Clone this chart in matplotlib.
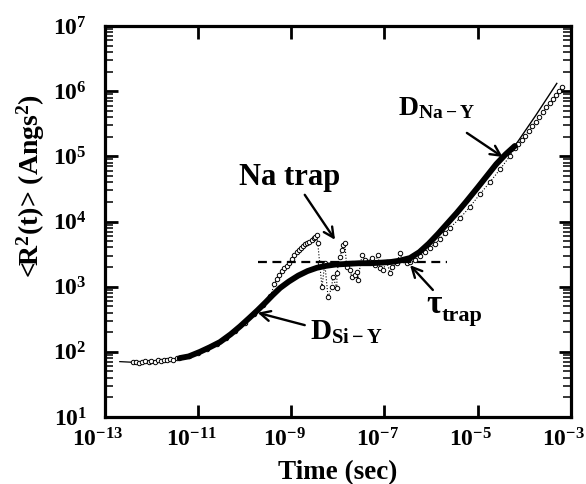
import numpy as np
import matplotlib
matplotlib.use("Agg")
import matplotlib.pyplot as plt
import matplotlib.transforms as mtransforms
from matplotlib.ticker import FixedLocator, LogLocator, NullLocator, LogFormatterMathtext

plt.rcParams["font.family"] = ["Liberation Serif", "DejaVu Serif"]
plt.rcParams["font.weight"] = "bold"
plt.rcParams["mathtext.fontset"] = "custom"
plt.rcParams["mathtext.rm"] = "Liberation Serif:bold"
plt.rcParams["mathtext.it"] = "Liberation Serif:bold"
plt.rcParams["mathtext.bf"] = "Liberation Serif:bold"

# --- data (log10 of time in s, log10 of <R^2> in Angs^2) ---
# model curve (thick part)
fit_logt = [-11.39, -11.20, -10.96, -10.75, -10.53, -10.30, -10.10, -9.90, -9.72,
            -9.55, -9.40, -9.24, -9.05, -8.85, -8.65, -8.45, -8.25, -8.05, -7.80,
            -7.55, -7.30, -7.05, -6.85, -6.67, -6.45, -6.25, -6.05, -5.85, -5.65,
            -5.45, -5.25, -5.00, -4.80, -4.60, -4.40, -4.20]
fit_logr = [1.905, 1.93, 2.00, 2.07, 2.15, 2.27, 2.39, 2.52, 2.64,
            2.76, 2.87, 2.98, 3.08, 3.17, 3.24, 3.29, 3.32, 3.34, 3.35,
            3.36, 3.36, 3.37, 3.38, 3.40, 3.44, 3.53, 3.66, 3.81, 3.97,
            4.13, 4.30, 4.52, 4.70, 4.88, 5.03, 5.16]
# thin extensions of the model
early_logt = [-12.68, -12.40, -12.00, -11.60, -11.39]
early_logr = [1.85, 1.84, 1.85, 1.88, 1.905]
late_logt = [-4.20, -3.75, -3.30]
late_logr = [5.16, 5.63, 6.12]

# simulation points
sim_logt = [-12.40, -12.33, -12.26, -12.20, -12.13, -12.06, -12.00, -11.93, -11.86,
            -11.80, -11.73, -11.66, -11.60, -11.53, -11.46, -11.40,
            -11.20, -11.00, -10.80, -10.60, -10.40, -10.20, -10.00, -9.80, -9.60, -9.45,
            -9.36, -9.31, -9.26, -9.20, -9.15, -9.09, -9.04, -8.99, -8.94, -8.88,
            -8.83, -8.79, -8.75, -8.71, -8.66, -8.62, -8.56, -8.52, -8.49, -8.45,
            -8.43, -8.39, -8.34, -8.28, -8.21, -8.13, -8.11, -8.02, -8.02, -7.96, -7.91,
            -7.89, -7.85, -7.81, -7.74, -7.70, -7.64, -7.59, -7.57, -7.48, -7.42, -7.36,
            -7.27, -7.21, -7.14, -7.10, -7.03, -6.95, -6.88, -6.84, -6.73, -6.67, -6.61,
            -6.52, -6.45, -6.35, -6.24, -6.13, -6.03, -5.92, -5.81, -5.70, -5.60,
            -5.38, -5.17, -4.95, -4.74, -4.52, -4.31,
            -4.20, -4.13, -4.05, -3.98, -3.90, -3.83, -3.75, -3.68, -3.60, -3.53,
            -3.45, -3.38, -3.32, -3.25, -3.19]
sim_logr = [1.84, 1.85, 1.83, 1.85, 1.86, 1.84, 1.86, 1.85, 1.87,
            1.86, 1.88, 1.87, 1.89, 1.88, 1.90, 1.91,
            1.93, 1.99, 2.05, 2.12, 2.22, 2.32, 2.45, 2.58, 2.72, 2.85,
            3.04, 3.12, 3.18, 3.24, 3.28, 3.31, 3.37, 3.42, 3.48, 3.53,
            3.57, 3.60, 3.62, 3.65, 3.67, 3.69, 3.72, 3.75, 3.77, 3.79,
            3.67, 3.36, 2.99, 3.36, 2.84, 2.99, 3.15, 2.98, 3.21, 3.46, 3.56,
            3.64, 3.67, 3.30, 3.26, 3.15, 3.18, 3.22, 3.10, 3.49, 3.41, 3.38,
            3.44, 3.33, 3.49, 3.29, 3.26, 3.38, 3.21, 3.30, 3.36, 3.52, 3.41,
            3.36, 3.38, 3.41, 3.47, 3.53, 3.59, 3.66, 3.73, 3.82, 3.90,
            4.05, 4.22, 4.42, 4.60, 4.80, 5.00,
            5.13, 5.19, 5.25, 5.32, 5.39, 5.46, 5.53, 5.60, 5.68, 5.75,
            5.82, 5.88, 5.94, 6.00, 6.06]

# plateau guide
plateau_logt = [-9.72, -5.66]
plateau_logr = 3.38

fig = plt.figure(figsize=(5.86, 4.84), dpi=100)
ax = fig.add_axes([0.179, 0.1384, 0.795, 0.8078])

t = lambda v: 10.0 ** np.asarray(v)

ax.plot(t(sim_logt), t(sim_logr), ls=":", lw=0.8, color="black",
        marker="o", ms=3.2, mfc="white", mec="black", mew=0.7, zorder=3)
ax.plot(t(early_logt), t(early_logr), color="black", lw=0.9, zorder=2)
ax.plot(t(late_logt), t(late_logr), color="black", lw=1.0, zorder=2)
ax.plot(t(fit_logt), t(fit_logr), color="black", lw=4.2, solid_capstyle="round", zorder=4)
ax.plot(t(plateau_logt), t([plateau_logr] * 2), color="black", lw=1.6,
        ls=(0, (4, 2.5)), zorder=5)

ax.set_xscale("log")
ax.set_yscale("log")
ax.set_xlim(1e-13, 1e-3)
ax.set_ylim(1e1, 1e7)

ax.xaxis.set_major_locator(FixedLocator(10.0 ** np.arange(-13, -2, 2)))
ax.xaxis.set_minor_locator(NullLocator())
ax.yaxis.set_major_locator(LogLocator(base=10, numticks=10))
ax.yaxis.set_minor_locator(LogLocator(base=10, subs=np.arange(2, 10), numticks=20))
ax.xaxis.set_major_formatter(LogFormatterMathtext())
ax.yaxis.set_major_formatter(LogFormatterMathtext())

ax.tick_params(which="both", direction="in", top=True, right=True)
ax.tick_params(which="major", length=9, width=2.0, labelsize=17)
ax.tick_params(which="minor", length=6, width=1.1)
ax.tick_params(axis="y", which="major", pad=13)
ax.tick_params(axis="x", which="major", pad=8)
for s in ax.spines.values():
    s.set_linewidth(2.3)

# x tick labels sit a little left of their ticks in the original
shift = mtransforms.ScaledTranslation(-7 / 100, 0, fig.dpi_scale_trans)
for lab in ax.get_xticklabels():
    lab.set_transform(lab.get_transform() + shift)

ax.set_xlabel("Time (sec)", fontsize=19.5, fontweight="bold", labelpad=6)
ax.set_ylabel(r"<R$^2$(t)> (Angs$^2$)", fontsize=20, fontweight="bold")
ax.yaxis.set_label_coords(-0.125, 0.59)

# annotations
arrow = dict(arrowstyle="->", lw=1.7, color="black", mutation_scale=18,
             shrinkA=0, shrinkB=0)
ax.annotate("", xy=(t(-8.06), t(3.72)), xytext=(t(-8.71), t(4.41)), arrowprops=arrow)
ax.annotate("", xy=(t(-9.72), t(2.60)), xytext=(t(-8.71), t(2.41)), arrowprops=arrow)
ax.annotate("", xy=(t(-6.45), t(3.33)), xytext=(t(-5.96), t(2.95)), arrowprops=arrow)
ax.annotate("", xy=(t(-4.46), t(4.99)), xytext=(t(-5.23), t(5.36)), arrowprops=arrow)

ax.text(t(-9.03), t(4.56), "Na trap", fontsize=22, fontweight="bold",
        ha="center", va="baseline")
ax.text(t(-8.60), t(2.18), r"D$_{\mathrm{Si-Y}}$", fontsize=21, fontweight="bold",
        ha="left", va="baseline")
ax.text(t(-6.71), t(5.63), r"D$_{\mathrm{Na-Y}}$", fontsize=20, fontweight="bold",
        ha="left", va="baseline")
ax.text(t(-6.11), t(2.60), "\u03c4", fontsize=24, fontweight="bold",
        ha="left", va="baseline")
ax.annotate("trap", xy=(t(-6.11), t(2.60)), xytext=(11, -6), textcoords="offset points",
            fontsize=16, fontweight="bold", ha="left", va="baseline")

fig.savefig("out.png", dpi=100)
